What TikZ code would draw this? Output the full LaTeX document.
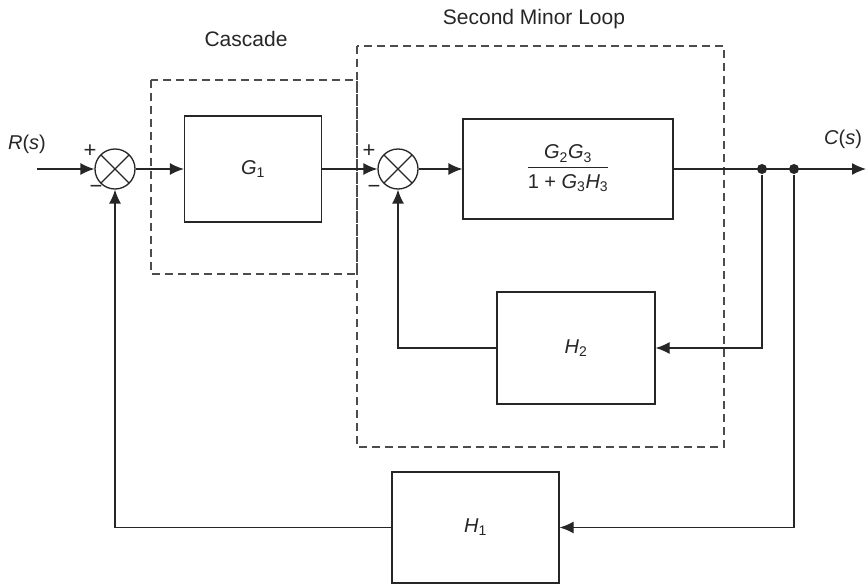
\documentclass[tikz,border=0pt]{standalone}
\usepackage{fontspec}
\setmainfont{Liberation Sans}
\usetikzlibrary{arrows.meta,positioning}

\newcommand{\sym}[2]{\textit{#1}\textsubscript{#2}}

\tikzset{
  blockbox/.style={draw, fill=white, inner sep=0pt, font=\fontsize{20}{24}\selectfont},
  sumjn/.style={draw, circle, minimum size=40pt, inner sep=0pt,
    path picture={\draw (path picture bounding box.north west) -- (path picture bounding box.south east)
      (path picture bounding box.north east) -- (path picture bounding box.south west);}},
  dot/.style={circle, fill, minimum size=10pt, inner sep=0pt},
  sign/.style={inner sep=0pt, font=\fontsize{22}{24}\selectfont},
  siglabel/.style={inner sep=0pt, font=\fontsize{20}{24}\selectfont},
  looplabel/.style={inner sep=0pt, font=\fontsize{21}{25}\selectfont},
  loopbox/.style={draw=black!70, line width=1.2pt, dash pattern=on 8pt off 5pt}
}

\begin{document}
\begin{tikzpicture}[x=1pt,y=-1pt,line width=1.3pt,color=black!85,>={Latex[length=14pt,width=12pt]}]
  \useasboundingbox (0,0) rectangle (868,585);
  % dashed loops
  \draw[loopbox] (151,80) rectangle (357,274);
  \draw[loopbox] (357,46) rectangle (724,447);
  \node[looplabel, anchor=base] (cascade) at (246,47) {Cascade};
  \node[looplabel, anchor=base] (minorloop) at (534,25) {Second Minor Loop};

  % blocks
  \node[sumjn] (sum1) at (115,169) {};
  \node[blockbox, minimum width=137pt, minimum height=106pt] (g1) at (253,169) {\sym{G}{1}};
  \node[sumjn] (sum2) at (398,169) {};
  \node[blockbox, minimum width=210pt, minimum height=100pt] (g23) at (568,169)
    {\begin{tabular}{@{}c@{}}\sym{G}{2}\sym{G}{3}\\[1pt]\hline\rule{0pt}{21pt}1 + \sym{G}{3}\sym{H}{3}\end{tabular}};
  \node[blockbox, minimum width=158pt, minimum height=112pt] (h2) at (576,348) {\sym{H}{2}};
  \node[blockbox, minimum width=167pt, minimum height=111pt] (h1) at (475.5,527.5) {\sym{H}{1}};
  \node[dot] (tap2) at (762,169) {};
  \node[dot] (tap1) at (794,169) {};
  \coordinate (rin) at (37,169);
  \coordinate (cout) at (866,169);

  % labels
  \node[siglabel, anchor=base] (rlbl) at (27,150) {\textit{R}(\textit{s})};
  \node[siglabel, anchor=base] (clbl) at (843,145) {\textit{C}(\textit{s})};
  \node[sign] (plus1) at (90,151) {+};
  \node[sign] (minus1) at (96,189) {−};
  \node[sign] (plus2) at (369,151) {+};
  \node[sign] (minus2) at (374,189) {−};

  % signal paths
  \draw[->] (rin) -- (sum1);
  \draw[->] (sum1) -- (g1);
  \draw[->] (g1) -- (sum2);
  \draw[->] (sum2) -- (g23);
  \draw[->] (g23) -- (cout);
  \draw[->] (tap2) |- (h2);
  \draw[->] (h2) -| (sum2);
  \draw[->] (tap1) |- (h1);
  \draw[->] (h1) -| (sum1);
\end{tikzpicture}
\end{document}
